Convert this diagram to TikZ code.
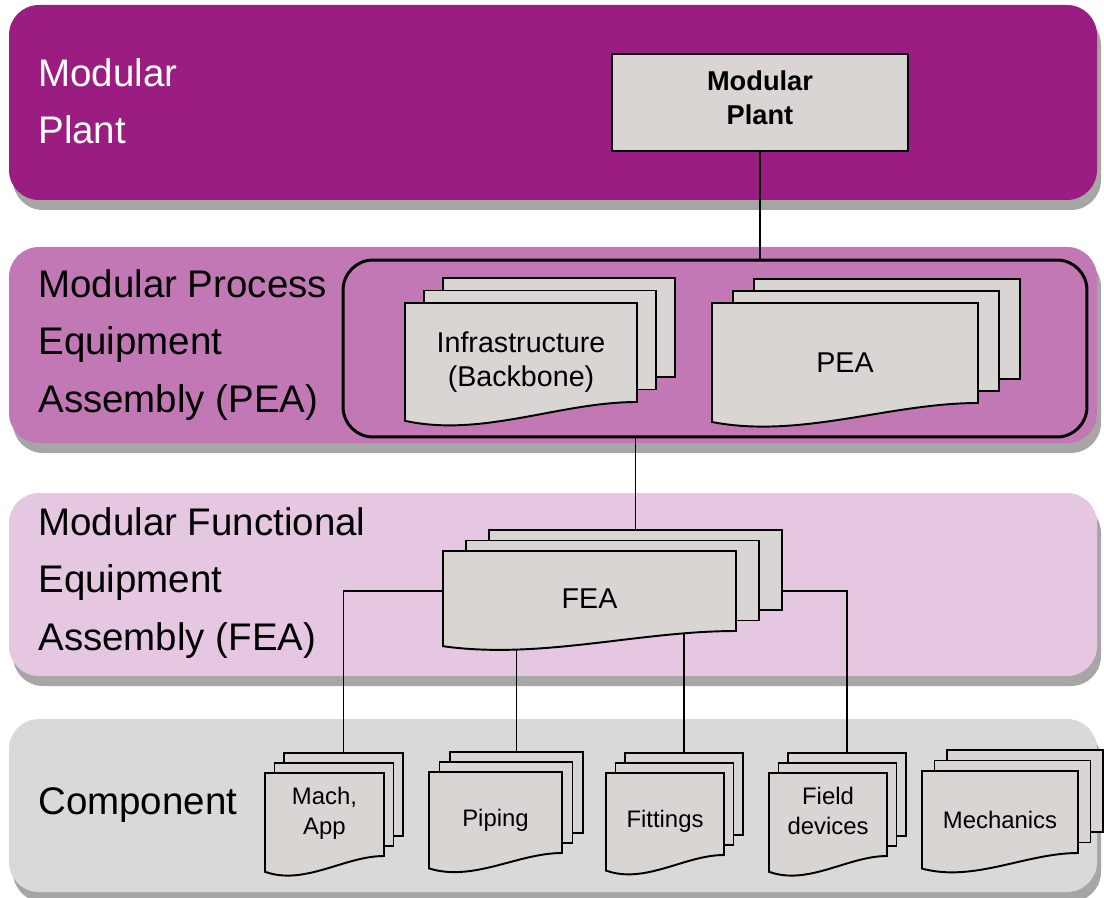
\documentclass[tikz,border=0pt]{standalone}
\usepackage{fontspec}
\setmainfont{Liberation Sans}
\usetikzlibrary{calc}

\definecolor{plantband}{HTML}{9B1D82}
\definecolor{peaband}{HTML}{C178B5}
\definecolor{feaband}{HTML}{E5C7E2}
\definecolor{compband}{HTML}{D9D9D9}
\definecolor{bandshadow}{HTML}{A6A6A6}
\definecolor{sheet}{HTML}{D8D5D2}

\pgfdeclarelayer{bands}
\pgfdeclarelayer{links}
\pgfsetlayers{bands,links,main}

\tikzset{
	sheetline/.style={draw=black, line width=1.1pt, fill=sheet},
	link/.style={draw=black, line width=1.1pt},
	bandtext/.style={anchor=west, align=left, inner sep=0pt, font=\fontsize{21.9}{32.5}\selectfont},
	doclabel/.style={align=center, inner sep=0pt, font=\fontsize{16.3}{19.5}\selectfont},
}

% stack of three sheets: name, left, top, right, bottom, dx, dy, text
\newcommand{\docstack}[8]{%
	\pgfmathsetmacro{\docwave}{0.19*(#5-#3)}
	\draw [sheetline] ({#2+2*#6},{#3-2*#7}) rectangle ({#4+2*#6},{#5-2*#7});
	\draw [sheetline] ({#2+#6},{#3-#7}) rectangle ({#4+#6},{#5-#7});
	\draw [sheetline] ({#2},{#3}) -- ({#4},{#3}) -- ({#4},{#5})
		.. controls ({#2+2*(#4-#2)/3},{#5}) and ({#2+(#4-#2)/3},{#5+1.9*\docwave}) .. ({#2},{#5+\docwave}) -- cycle;
	\node [doclabel] (#1) at ({(#2+#4)/2},{(#3+#5+\docwave)/2}) {#8};
	\coordinate (#1 top) at ({(#2+#4)/2+2*#6},{#3-2*#7});
	\coordinate (#1 west) at ({#2},{(#3+#5)/2});
	\coordinate (#1 east) at ({#4+2*#6},{(#3+#5)/2});
}

\begin{document}
\begin{tikzpicture}[x=0.02cm, y=-0.02cm]
	\useasboundingbox (0,0) rectangle (1104,898);
	% bands
	\begin{pgfonlayer}{bands}
		\foreach \top/\bot/\col in {5/200/plantband, 247/443/peaband, 493/676/feaband, 719/892/compband} {
			\fill [bandshadow, rounded corners=0.6cm] (13,{\top+10}) rectangle (1101,{\bot+10});
			\fill [\col, rounded corners=0.6cm] (9,\top) rectangle (1097,\bot);
		}
	\end{pgfonlayer}
	\node [bandtext, text=white] (plantlabel) at (38,101.5) {Modular\\Plant};
	\node [bandtext] (pealabel) at (38,345) {Modular Process\\Equipment\\Assembly (PEA)};
	\node [bandtext] (fealabel) at (38,583) {Modular Functional\\Equipment\\Assembly (FEA)};
	\node [bandtext] (complabel) at (38,805) {Component};
	% modular plant
	\node [draw, line width=1.1pt, fill=sheet, minimum width=5.92cm, minimum height=1.94cm, align=center,
		font=\fontsize{15.5}{19.5}\selectfont\bfseries] (plant) at (760,102.5) {Modular\\Plant\\[-14pt]};
	% PEA level
	\node [draw, line width=1.7pt, rounded corners=0.6cm, minimum width=14.88cm, minimum height=3.54cm] (peagroup) at (715,348.5) {};
	\docstack{infra}{405}{303}{637}{402}{19}{12.5}{Infrastructure\\(Backbone)}
	\docstack{pea}{712}{303}{978}{403}{21}{12}{PEA}
	% FEA level
	\docstack{fea}{443}{551}{736}{631}{23}{10.5}{FEA}
	% components
	\begin{scope}[doclabel/.append style={font=\fontsize{13.6}{17}\selectfont}]
		\docstack{mach}{265}{773}{384}{856}{9.5}{10}{Mach,\\App\\[-4pt]}
		\docstack{piping}{429}{772}{562}{853}{10.5}{10}{Piping}
		\docstack{fittings}{606}{773}{724}{855}{9.5}{10}{Fittings}
		\docstack{field}{769}{773}{887}{856}{9.5}{10}{Field\\devices\\[-4pt]}
		\docstack{mechanics}{922}{771}{1078}{853}{12.5}{10.5}{Mechanics}
	\end{scope}
	% connectors
	\begin{pgfonlayer}{links}
		\draw [link] (plant.south) -- (plant.south |- peagroup.north);
		\draw [link] (fea top) -- (fea top |- peagroup.south);
		\draw [link] (fea west) -| (mach top);
		\draw [link] (fea east) -| (field top);
		\draw [link] (piping top) -- (piping top |- fea);
		\draw [link] (fittings top) -- (fittings top |- fea);
	\end{pgfonlayer}
\end{tikzpicture}
\end{document}
